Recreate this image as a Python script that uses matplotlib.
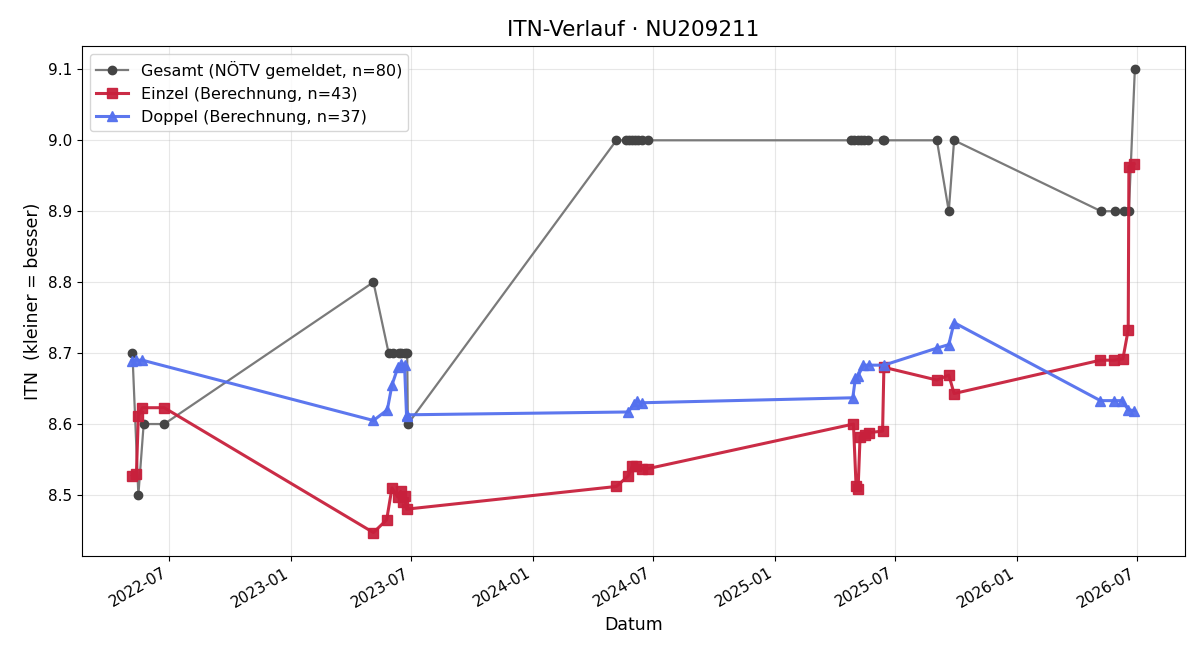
import matplotlib
matplotlib.use("Agg")
import matplotlib.pyplot as plt
import matplotlib.dates as mdates
import pandas as pd

# Gesamt (reported ITN)
gesamt_dates = [
    "2022-05-06", "2022-05-15", "2022-05-23", "2022-06-23",
    "2023-05-05", "2023-05-28", "2023-06-03", "2023-06-12", "2023-06-16",
    "2023-06-21", "2023-06-25", "2023-06-26",
    "2024-05-06", "2024-05-21", "2024-05-25", "2024-05-30", "2024-06-03",
    "2024-06-08", "2024-06-14", "2024-06-22",
    "2025-04-26", "2025-04-30", "2025-05-06", "2025-05-11", "2025-05-15",
    "2025-05-21", "2025-06-12", "2025-06-14",
    "2025-09-02", "2025-09-20", "2025-09-28",
    "2026-05-08", "2026-05-29", "2026-06-11", "2026-06-19", "2026-06-28",
]
gesamt_vals = [
    8.7, 8.5, 8.6, 8.6,
    8.8, 8.7, 8.7, 8.7, 8.7, 8.7, 8.7, 8.6,
    9.0, 9.0, 9.0, 9.0, 9.0, 9.0, 9.0, 9.0,
    9.0, 9.0, 9.0, 9.0, 9.0, 9.0, 9.0, 9.0,
    9.0, 8.9, 9.0,
    8.9, 8.9, 8.9, 8.9, 9.1,
]

# Einzel (calculated)
einzel_dates = [
    "2022-05-06", "2022-05-12", "2022-05-15", "2022-05-21", "2022-06-23",
    "2023-05-05", "2023-05-25", "2023-06-02", "2023-06-11", "2023-06-15",
    "2023-06-18", "2023-06-21", "2023-06-24",
    "2024-05-06", "2024-05-24", "2024-05-30", "2024-06-05", "2024-06-13", "2024-06-22",
    "2025-04-29", "2025-05-03", "2025-05-06", "2025-05-09", "2025-05-17",
    "2025-05-23", "2025-06-12", "2025-06-14",
    "2025-09-02", "2025-09-20", "2025-09-28",
    "2026-05-07", "2026-05-28", "2026-06-10", "2026-06-18", "2026-06-19", "2026-06-27",
]
einzel_vals = [
    8.527, 8.530, 8.612, 8.623, 8.623,
    8.447, 8.465, 8.510, 8.497, 8.505, 8.490, 8.498, 8.480,
    8.512, 8.527, 8.541, 8.541, 8.537, 8.537,
    8.600, 8.512, 8.508, 8.582, 8.585, 8.588, 8.590, 8.680,
    8.662, 8.669, 8.643,
    8.690, 8.690, 8.692, 8.733, 8.963, 8.967,
]

# Doppel (calculated)
doppel_dates = [
    "2022-05-05", "2022-05-11", "2022-05-21",
    "2023-05-05", "2023-05-26", "2023-06-02", "2023-06-11", "2023-06-15",
    "2023-06-21", "2023-06-24", "2023-06-25",
    "2024-05-24", "2024-06-01", "2024-06-06", "2024-06-14",
    "2025-04-28", "2025-05-02", "2025-05-06", "2025-05-14", "2025-05-23", "2025-06-14",
    "2025-09-02", "2025-09-20", "2025-09-28",
    "2026-05-07", "2026-05-28", "2026-06-09", "2026-06-18", "2026-06-27",
]
doppel_vals = [
    8.689, 8.690, 8.690,
    8.605, 8.620, 8.655, 8.680, 8.684, 8.683, 8.612, 8.613,
    8.617, 8.628, 8.632, 8.630,
    8.637, 8.665, 8.668, 8.683, 8.683, 8.683,
    8.707, 8.712, 8.743,
    8.633, 8.633, 8.633, 8.620, 8.619,
]

fig, ax = plt.subplots(figsize=(12, 6.6), dpi=100)

ax.plot(pd.to_datetime(gesamt_dates), gesamt_vals, color="#7a7a7a", lw=1.6,
        marker="o", markersize=6, markerfacecolor="#444444",
        markeredgecolor="#444444", label="Gesamt (NÖTV gemeldet, n=80)")
ax.plot(pd.to_datetime(einzel_dates), einzel_vals, color="#c8203c", lw=2.2,
        marker="s", markersize=7, alpha=0.95, label="Einzel (Berechnung, n=43)")
ax.plot(pd.to_datetime(doppel_dates), doppel_vals, color="#5470ee", lw=2.2,
        marker="^", markersize=7, alpha=0.95, label="Doppel (Berechnung, n=37)")

ax.set_title("ITN-Verlauf · NU209211", fontsize=15.5, pad=7)
ax.set_xlabel("Datum", fontsize=12.5)
ax.set_ylabel("ITN  (kleiner = besser)", fontsize=12.5)
ax.grid(True, alpha=0.3)
ax.legend(loc="upper left", fontsize=11.5)

ax.xaxis.set_major_locator(mdates.MonthLocator(bymonth=[1, 7]))
ax.xaxis.set_major_formatter(mdates.DateFormatter("%Y-%m"))
ax.tick_params(labelsize=11)
fig.autofmt_xdate()

fig.subplots_adjust(left=0.068, right=0.9875, top=0.93, bottom=0.158)
fig.savefig("out.png")
